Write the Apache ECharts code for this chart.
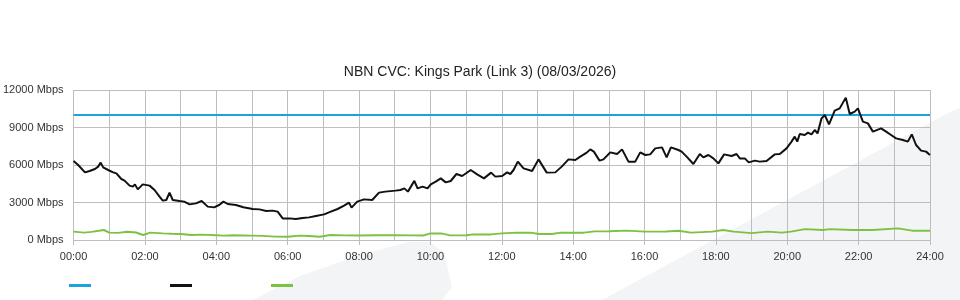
<!DOCTYPE html>
<html>
<head>
<meta charset="utf-8">
<script src="https://cdn.jsdelivr.net/npm/echarts@6/dist/echarts.min.js"></script>
<style>html,body{margin:0;padding:0;background:#fff}#c{width:960px;height:300px}</style>
</head>
<body>
<div id="c"></div>
<script>
var titleText = 'NBN CVC: Kings Park (Link 3) (08/03/2026)';
var seriesNames = ['Capacity', 'Download', 'Upload'];

var capHours = [0, 24];
var capMbps = [10000, 10000];

var dlHours = [0.00,0.13,0.32,0.45,0.60,0.69,0.76,0.83,0.97,1.11,1.20,1.34,1.43,1.57,1.66,1.72,1.80,1.94,2.13,2.27,2.41,2.50,2.60,2.69,2.78,2.97,3.10,3.25,3.43,3.59,3.76,3.94,4.08,4.20,4.32,4.55,4.76,5.02,5.21,5.40,5.58,5.72,5.86,6.05,6.23,6.42,6.60,6.79,7.02,7.21,7.40,7.58,7.72,7.79,7.95,8.14,8.37,8.56,8.74,9.02,9.16,9.27,9.37,9.55,9.64,9.78,9.92,10.01,10.15,10.29,10.43,10.57,10.73,10.89,11.13,11.31,11.50,11.70,11.82,12.01,12.15,12.24,12.33,12.45,12.61,12.85,13.03,13.26,13.50,13.68,13.87,14.06,14.20,14.38,14.48,14.58,14.74,14.85,15.04,15.23,15.37,15.55,15.74,15.88,16.02,16.16,16.30,16.49,16.62,16.74,16.95,17.04,17.18,17.37,17.55,17.65,17.79,17.93,18.07,18.23,18.44,18.58,18.67,18.81,18.92,19.09,19.23,19.42,19.65,19.79,19.98,20.12,20.21,20.28,20.35,20.49,20.58,20.68,20.77,20.85,20.96,21.05,21.17,21.33,21.47,21.64,21.75,21.89,21.98,22.12,22.26,22.40,22.63,22.77,22.91,23.05,23.24,23.38,23.49,23.61,23.75,23.89,24.00];
var dlMbps = [6320,6000,5410,5520,5680,5870,6190,5810,5600,5410,5330,4880,4750,4350,4270,4450,4050,4450,4350,4000,3470,3150,3200,3790,3200,3120,3070,2850,2930,3120,2670,2610,2800,3070,2880,2800,2620,2480,2450,2320,2350,2270,1730,1730,1680,1760,1810,1920,2050,2270,2480,2750,2990,2590,3070,3250,3200,3790,3870,3950,4000,4130,3870,4730,4130,4270,4130,4450,4670,4930,4610,4720,5280,5120,5600,5250,4930,5390,5070,5120,5410,5280,5600,6270,5730,5520,6450,5390,5410,5870,6450,6400,6670,6990,7250,7070,6350,6450,7010,6880,7250,6270,6270,7010,6800,6850,7330,7410,6610,7410,7200,7070,6670,6080,6880,6610,6800,6530,6130,6850,6720,6880,6530,6530,6210,6350,6270,6320,6850,6880,7330,7870,8270,7870,8480,8400,8590,8450,8800,8530,9730,10000,9250,10350,10530,11390,10080,10270,10530,9470,9330,8670,8930,8670,8400,8130,8000,7870,8450,7600,7150,7070,6800];

var ulHours = [0,0.3,0.5,0.85,1.0,1.25,1.5,1.75,1.95,2.15,2.5,2.75,3.0,3.3,3.6,4.0,4.2,4.5,5.0,5.3,5.65,6.0,6.35,6.6,6.9,7.2,7.6,8.0,8.5,9.0,9.5,9.8,10.0,10.3,10.55,11.0,11.2,11.7,12.0,12.4,12.8,13.05,13.4,13.65,14.3,14.6,15.0,15.5,16.0,16.6,16.95,17.3,17.9,18.2,18.5,19.0,19.45,19.85,20.1,20.5,21.0,21.2,21.8,22.4,23.1,23.5,24];
var ulMbps = [670,590,650,800,590,570,660,600,400,590,530,500,480,400,430,380,350,380,350,330,270,260,350,320,260,400,370,360,380,380,370,360,530,530,370,380,450,450,530,590,590,480,480,590,590,690,700,750,670,680,740,590,670,800,670,550,670,590,670,870,800,870,800,800,930,750,750];

var xTickLabels = ['00:00','02:00','04:00','06:00','08:00','10:00','12:00','14:00','16:00','18:00','20:00','22:00','24:00'];

function pairs(xs, ys) { return xs.map(function (x, i) { return [x, ys[i]]; }); }

var chart = echarts.init(document.getElementById('c'), null, { renderer: 'canvas' });
var font = '"Liberation Sans", Arial, sans-serif';
var gridColor = '#bdbdbd';

chart.setOption({
  backgroundColor: '#ffffff',
  animation: false,
  title: {
    text: titleText,
    left: 'center',
    top: 60,
    textStyle: { fontFamily: font, fontSize: 14, fontWeight: 'normal', color: '#222' }
  },
  graphic: [
    {
      type: 'polygon', z: -100, silent: true,
      shape: { points: [[253,300],[300,276],[360,255],[408,242],[430,242],[444,253],[452,287],[442,300]] },
      style: { fill: '#f3f4f6' }
    },
    {
      type: 'polygon', z: -100, silent: true,
      shape: { points: [[602,300],[950,112],[960,108],[960,300]] },
      style: { fill: '#f3f4f6' }
    }
  ],
  legend: {
    left: 64,
    top: 279,
    icon: 'rect',
    itemWidth: 22,
    itemHeight: 3,
    itemGap: 79,
    formatter: function () { return ''; },
    textStyle: { fontSize: 1 },
    data: seriesNames
  },
  grid: { left: 70, right: 30, top: 90, bottom: 60, containLabel: false },
  xAxis: {
    type: 'value',
    min: 0, max: 24, interval: 2,
    axisLine: { show: false },
    axisTick: { show: true, length: 5, lineStyle: { color: gridColor } },
    axisLabel: {
      fontFamily: font, fontSize: 11, color: '#333', margin: 11,
      formatter: function (v) { return xTickLabels[v / 2]; }
    },
    splitLine: { show: true, lineStyle: { color: gridColor, width: 1 } },
    minorTick: { show: false, splitNumber: 2 },
    minorSplitLine: { show: true, lineStyle: { color: gridColor, width: 1 } }
  },
  yAxis: {
    type: 'value',
    min: 0, max: 12000, interval: 3000,
    axisLine: { show: false },
    axisTick: { show: false },
    axisLabel: {
      fontFamily: font, fontSize: 11, color: '#333', margin: 10,
      formatter: function (v) { return v + ' Mbps'; }
    },
    splitLine: { show: true, lineStyle: { color: gridColor, width: 1 } }
  },
  series: [
    { name: seriesNames[0], type: 'line', data: pairs(capHours, capMbps), showSymbol: false, symbol: 'none',
      itemStyle: { color: '#1aa3df' }, lineStyle: { color: '#1aa3df', width: 2 }, z: 3 },
    { name: seriesNames[1], type: 'line', data: pairs(dlHours, dlMbps), showSymbol: false, symbol: 'none',
      itemStyle: { color: '#111111' }, lineStyle: { color: '#111111', width: 2 }, z: 4 },
    { name: seriesNames[2], type: 'line', data: pairs(ulHours, ulMbps), showSymbol: false, symbol: 'none',
      itemStyle: { color: '#7cc242' }, lineStyle: { color: '#7cc242', width: 2 }, z: 3 }
  ]
});
</script>
</body>
</html>
